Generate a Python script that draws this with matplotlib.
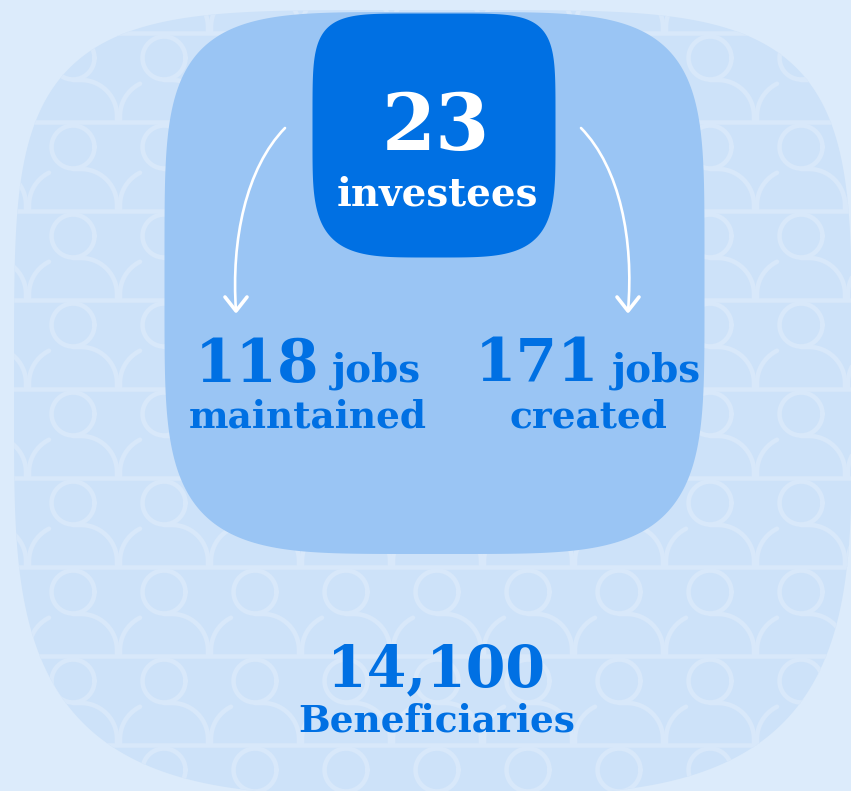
import numpy as np
import matplotlib.pyplot as plt
from matplotlib.path import Path
from matplotlib.patches import PathPatch, Polygon
from matplotlib.collections import LineCollection

# figures shown on the card
investees = 23
job_values = [118, 171]
job_labels = ['maintained', 'created']
job_unit = 'jobs'
beneficiaries = 14100
beneficiaries_label = 'Beneficiaries'

W, H = 851, 791
BG = '#DCEBFB'
CARD = '#CDE2F9'
PATTERN = '#D8E8FA'
MID = '#9AC5F4'
DARK = '#0070E3'
FONT = 'DejaVu Serif'


def squircle(cx, cy, a, b, n_top, n_bot, k=600):
    t = np.linspace(0, 2 * np.pi, k)
    c, s = np.cos(t), np.sin(t)
    n = np.where(s > 0, n_bot, n_top)  # y grows downward
    x = cx + a * np.sign(c) * np.abs(c) ** (2 / n)
    y = cy + b * np.sign(s) * np.abs(s) ** (2 / n)
    return np.column_stack([x, y])


def arc(cx, cy, r, t0, t1, k=30):
    t = np.linspace(t0, t1, k)
    return np.column_stack([cx + r * np.cos(t), cy + r * np.sin(t)])


fig = plt.figure(figsize=(W / 100, H / 100), dpi=100)
fig.patch.set_facecolor(BG)
ax = fig.add_axes([0, 0, 1, 1])
ax.set_xlim(0, W)
ax.set_ylim(H, 0)
ax.axis('off')

# outer card
card = Polygon(squircle(433, 403, 419, 393, 4.6, 3.6), closed=True,
               facecolor=CARD, edgecolor='none', zorder=1)
ax.add_patch(card)

# people pattern
segs = []
rows = np.arange(33, 900, 89)
cols = np.arange(73 - 91, W + 91, 91)
for L in rows:
    segs.append(np.array([[0, L], [W, L]]))
    for hx in cols:
        segs.append(arc(hx, L - 64, 21.5, 0, 2 * np.pi, 40))
        right = np.vstack([[hx, L - 42], arc(hx + 8, L - 6, 36, -np.pi / 2, 0), [hx + 44, L]])
        segs.append(right)
        t0 = -np.pi / 2 - np.arcsin(16 / 36)
        left = np.vstack([arc(hx - 8, L - 6, 36, t0, -np.pi), [hx - 44, L]])
        segs.append(left)
lc = LineCollection(segs, colors=PATTERN, linewidths=3.3, capstyle='round',
                    joinstyle='round', zorder=2)
ax.add_collection(lc)
lc.set_clip_path(card)

# middle box and top box
ax.add_patch(Polygon(squircle(434.5, 283, 270, 271, 4.7, 4.4), closed=True,
                     facecolor=MID, edgecolor='none', zorder=3))
ax.add_patch(Polygon(squircle(434, 135.5, 121.5, 122, 5.4, 4.0), closed=True,
                     facecolor=DARK, edgecolor='none', zorder=4))

# curved arrows
for p0, p1, p2, p3 in [((285, 128), (246, 168), (231, 240), (236, 311)),
                       ((581, 128), (620, 168), (634, 240), (628, 311))]:
    path = Path([p0, p1, p2, p3], [Path.MOVETO, Path.CURVE4, Path.CURVE4, Path.CURVE4])
    ax.add_patch(PathPatch(path, facecolor='none', edgecolor='white', lw=1.9,
                           capstyle='round', zorder=5))
    ex, ey = p3
    ax.plot([ex - 11, ex, ex + 11], [ey - 14, ey, ey - 14], color='white', lw=2.6,
            solid_capstyle='round', solid_joinstyle='round', zorder=5)

# texts
ax.text(436, 150, str(investees), color='white', fontsize=56, fontweight='bold',
        family=FONT, ha='center', va='baseline', zorder=6)
ax.text(437, 205, 'investees', color='white', fontsize=28, fontweight='bold',
        family=FONT, ha='center', va='baseline', zorder=6)

fig.canvas.draw()
renderer = fig.canvas.get_renderer()
for cx, val, lab in zip([308, 588], job_values, job_labels):
    t1 = ax.text(0, 382, str(val), color=DARK, fontsize=43, fontweight='bold',
                 family=FONT, ha='left', va='baseline', zorder=6)
    t2 = ax.text(0, 382, job_unit, color=DARK, fontsize=28, fontweight='bold',
                 family=FONT, ha='left', va='baseline', zorder=6)
    w1 = t1.get_window_extent(renderer).width
    w2 = t2.get_window_extent(renderer).width
    gap = 12
    x0 = cx - (w1 + gap + w2) / 2
    t1.set_x(x0)
    t2.set_x(x0 + w1 + gap)
    ax.text(cx, 428, lab, color=DARK, fontsize=27, fontweight='bold',
            family=FONT, ha='center', va='baseline', zorder=6)

ax.text(436, 686, f'{beneficiaries:,}', color=DARK, fontsize=41, fontweight='bold',
        family=FONT, ha='center', va='baseline', zorder=6)
ax.text(437, 732, beneficiaries_label, color=DARK, fontsize=27, fontweight='bold',
        family=FONT, ha='center', va='baseline', zorder=6)

fig.savefig('out.png', dpi=100, facecolor=BG)
